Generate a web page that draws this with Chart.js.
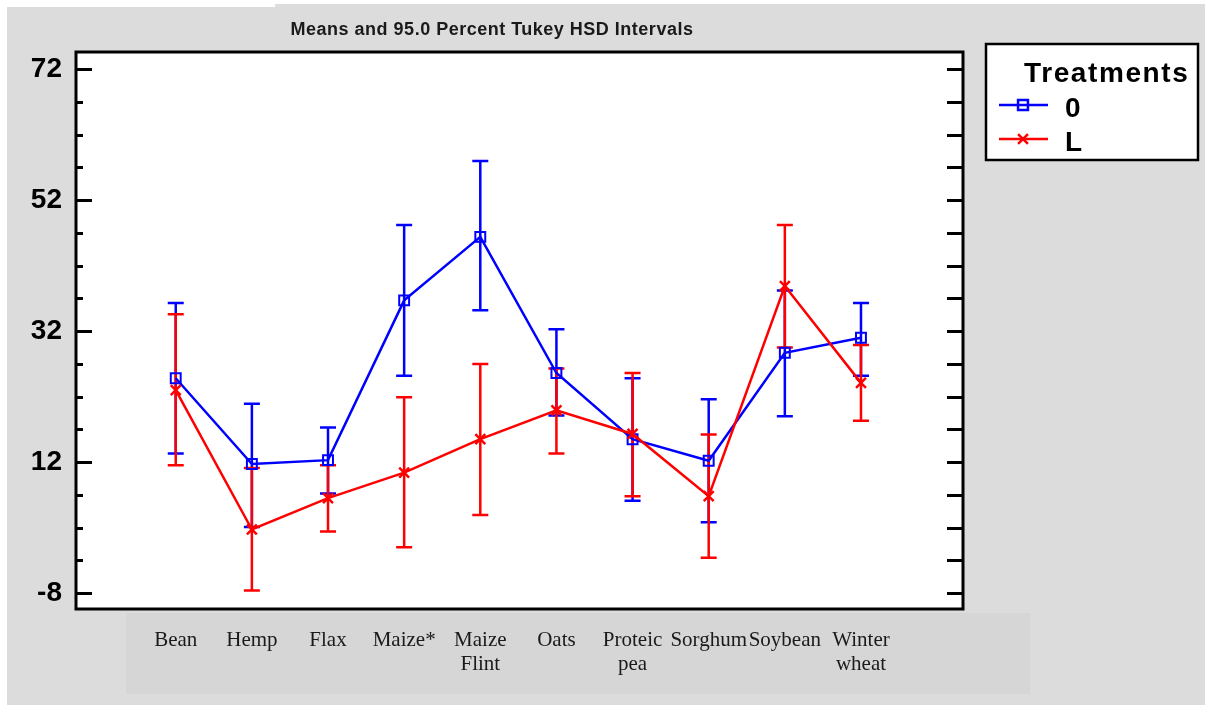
<!DOCTYPE html>
<html>
<head>
<meta charset="utf-8">
<script src="https://cdn.jsdelivr.net/npm/chart.js@4.4.1/dist/chart.umd.min.js"></script>
<style>
  html, body { margin: 0; padding: 0; background: #fff; }
  #chart { display: block; }
</style>
</head>
<body>
<canvas id="chart" width="1205" height="705"></canvas>
<script>
// crops on the x axis (arrays = two-line labels)
const crops = ['Bean', 'Hemp', 'Flax', 'Maize*', ['Maize', 'Flint'], 'Oats', ['Proteic', 'pea'], 'Sorghum', 'Soybean', ['Winter', 'wheat']];

// treatment 0: means and Tukey HSD interval ends
const means0 = [24.8, 11.7, 12.3, 36.7, 46.4, 25.6, 15.5, 12.2, 28.7, 31.0];
const lower0 = [13.3, 2.1, 7.2, 25.2, 35.2, 19.1, 6.1, 2.8, 19.0, 25.2];
const upper0 = [36.3, 20.9, 17.3, 48.2, 58.0, 32.3, 24.8, 21.6, 38.2, 36.3];

// treatment L
const meansL = [23.0, 1.7, 6.5, 10.4, 15.5, 19.9, 16.3, 6.8, 38.9, 24.1];
const lowerL = [11.5, -7.6, 1.4, -1.0, 3.9, 13.3, 6.8, -2.6, 29.5, 18.3];
const upperL = [34.6, 11.1, 11.5, 21.9, 27.0, 26.3, 25.6, 16.2, 48.2, 29.9];

// y axis: labelled ticks, plus minor ticks every 5
const yMajor = [-8, 12, 32, 52, 72];
const yMinorStep = 5;

const titleText = 'Means and 95.0 Percent Tukey HSD Intervals';
const legendTitle = 'Treatments';

const yTicks = [];
for (let v = yMajor[0]; v <= yMajor[yMajor.length - 1]; v += yMinorStep) yTicks.push(v);

const sansBold = (size) => 'bold ' + size + 'px "Liberation Sans", Arial, sans-serif';

// backgrounds, frame, tick marks, title and legend box
const frame = {
    id: 'frame',
    beforeDraw(chart) {
        const ctx = chart.ctx;
        const a = chart.chartArea;
        ctx.save();
        ctx.fillStyle = '#ffffff';
        ctx.fillRect(0, 0, chart.width, chart.height);
        ctx.fillStyle = '#dcdcdc';
        ctx.fillRect(7, 7, chart.width - 7, chart.height - 7);
        ctx.fillRect(275, 4, chart.width - 275, 4);
        ctx.fillStyle = '#d6d6d6';
        ctx.fillRect(a.left + 50, a.bottom + 4, 904, 81);
        ctx.fillStyle = '#ffffff';
        ctx.fillRect(a.left, a.top, a.right - a.left, a.bottom - a.top);
        ctx.restore();
    },
    afterDraw(chart) {
        const ctx = chart.ctx;
        const a = chart.chartArea;
        const y = chart.scales.y;
        ctx.save();

        // tick marks on both sides, pointing inwards
        ctx.strokeStyle = '#000';
        ctx.lineWidth = 3;
        ctx.beginPath();
        yTicks.forEach(v => {
            const py = Math.round(y.getPixelForValue(v)) + 0.5;
            const len = yMajor.includes(v) ? 16 : 7;
            ctx.moveTo(a.left, py);
            ctx.lineTo(a.left + len, py);
            ctx.moveTo(a.right - 16, py);
            ctx.lineTo(a.right, py);
        });
        ctx.stroke();
        ctx.strokeRect(a.left, a.top, a.right - a.left, a.bottom - a.top);

        // title
        ctx.fillStyle = '#1a1a1a';
        ctx.font = sansBold(18);
        ctx.letterSpacing = '0.5px';
        ctx.textAlign = 'center';
        ctx.textBaseline = 'alphabetic';
        ctx.fillText(titleText, a.left + 416, 35);
        ctx.letterSpacing = '0px';

        // legend box
        const lx = a.right + 23;
        const ly = 44;
        ctx.fillStyle = '#fff';
        ctx.fillRect(lx, ly, 212, 116);
        ctx.lineWidth = 2.5;
        ctx.strokeStyle = '#000';
        ctx.strokeRect(lx, ly, 212, 116);

        ctx.fillStyle = '#000';
        ctx.textAlign = 'left';
        ctx.font = sansBold(28);
        ctx.letterSpacing = '1.6px';
        ctx.fillText(legendTitle, lx + 38, ly + 38);
        ctx.letterSpacing = '0px';

        chart.data.datasets.forEach((ds, i) => {
            const rowY = ly + 61 + i * 34;
            ctx.strokeStyle = ds.borderColor;
            ctx.lineWidth = 2.5;
            ctx.beginPath();
            ctx.moveTo(lx + 13, rowY);
            ctx.lineTo(lx + 62, rowY);
            ctx.stroke();
            ctx.fillStyle = 'rgba(0,0,0,0)';
            Chart.helpers.drawPoint(ctx, {
                pointStyle: ds.pointStyle,
                rotation: 0,
                radius: ds.pointRadius,
                borderWidth: ds.pointBorderWidth
            }, lx + 37, rowY);
            ctx.fillStyle = '#000';
            ctx.font = sansBold(28);
            ctx.fillText(ds.label, lx + 79, rowY + 12);
        });
        ctx.restore();
    }
};

// vertical interval bars with caps
const errorBars = {
    id: 'errorBars',
    beforeDatasetsDraw(chart) {
        const ctx = chart.ctx;
        const x = chart.scales.x;
        const y = chart.scales.y;
        ctx.save();
        ctx.lineWidth = 2.5;
        chart.data.datasets.forEach(ds => {
            ctx.strokeStyle = ds.borderColor;
            ctx.beginPath();
            ds.lower.forEach((lo, i) => {
                const px = x.getPixelForValue(i);
                const pLo = y.getPixelForValue(lo);
                const pHi = y.getPixelForValue(ds.upper[i]);
                ctx.moveTo(px, pLo);
                ctx.lineTo(px, pHi);
                ctx.moveTo(px - 8, pLo);
                ctx.lineTo(px + 8, pLo);
                ctx.moveTo(px - 8, pHi);
                ctx.lineTo(px + 8, pHi);
            });
            ctx.stroke();
        });
        ctx.restore();
    }
};

const toPoints = (arr) => arr.map((v, i) => ({ x: i, y: v }));

new Chart(document.getElementById('chart'), {
    type: 'line',
    data: {
        datasets: [{
            label: '0',
            data: toPoints(means0),
            lower: lower0,
            upper: upper0,
            borderColor: '#0000ff',
            borderWidth: 2.5,
            pointStyle: 'rect',
            pointRadius: 7,
            pointBorderWidth: 2,
            pointBackgroundColor: 'rgba(0,0,0,0)',
            pointBorderColor: '#0000ff',
            order: 1
        }, {
            label: 'L',
            data: toPoints(meansL),
            lower: lowerL,
            upper: upperL,
            borderColor: '#ff0000',
            borderWidth: 2.5,
            pointStyle: 'crossRot',
            pointRadius: 7,
            pointBorderWidth: 2.5,
            pointBackgroundColor: 'rgba(0,0,0,0)',
            pointBorderColor: '#ff0000',
            order: 0
        }]
    },
    options: {
        responsive: false,
        animation: false,
        events: [],
        layout: { padding: { top: 52, right: 242, left: 0, bottom: 0 } },
        plugins: {
            legend: { display: false },
            tooltip: { enabled: false },
            title: { display: false }
        },
        scales: {
            x: {
                type: 'linear',
                min: -1.31,
                max: 10.34,
                grid: { display: false, drawTicks: false },
                border: { display: false },
                afterBuildTicks: (s) => { s.ticks = crops.map((c, i) => ({ value: i })); },
                afterFit: (s) => { s.height = 96; },
                ticks: {
                    autoSkip: false,
                    maxRotation: 0,
                    padding: 19,
                    color: '#1a1a1a',
                    font: { family: '"Liberation Serif", "Times New Roman", serif', size: 21, lineHeight: 1.15 },
                    callback: (v) => crops[v]
                }
            },
            y: {
                min: -10.44,
                max: 74.64,
                grid: { display: false, drawTicks: false },
                border: { display: false },
                afterBuildTicks: (s) => { s.ticks = yTicks.map(v => ({ value: v })); },
                afterFit: (s) => { s.width = 76; },
                ticks: {
                    autoSkip: false,
                    padding: 14,
                    color: '#000',
                    font: { family: '"Liberation Sans", Arial, sans-serif', weight: 'bold', size: 28 },
                    callback: (v) => yMajor.includes(v) ? String(v) : ''
                }
            }
        }
    },
    plugins: [frame, errorBars]
});
</script>
</body>
</html>
